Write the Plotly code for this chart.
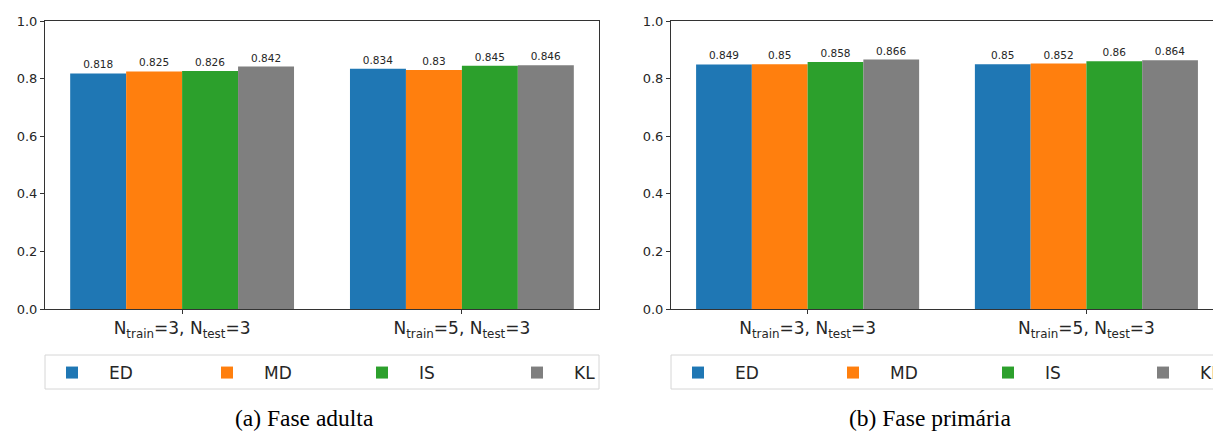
import plotly.graph_objects as go

W, H = 1213, 439

categories = ["N<sub>train</sub>=3, N<sub>test</sub>=3", "N<sub>train</sub>=5, N<sub>test</sub>=3"]
methods = ["ED", "MD", "IS", "KL"]
colors = ["#1f77b4", "#ff7f0e", "#2ca02c", "#7f7f7f"]

adulta = {
    "ED": [0.818, 0.834],
    "MD": [0.825, 0.83],
    "IS": [0.826, 0.845],
    "KL": [0.842, 0.846],
}
primaria = {
    "ED": [0.849, 0.85],
    "MD": [0.85, 0.852],
    "IS": [0.858, 0.86],
    "KL": [0.866, 0.864],
}
captions = ["(a) Fase adulta", "(b) Fase primária"]
yticks = [0.0, 0.2, 0.4, 0.6, 0.8, 1.0]

TXT = "#262626"
FONT = "DejaVu Sans"

fig = go.Figure()
xpos = list(range(len(categories)))

for panel, (data, xa, ya, lg) in enumerate([(adulta, "x", "y", "legend"), (primaria, "x2", "y2", "legend2")]):
    for m, c in zip(methods, colors):
        vals = data[m]
        fig.add_trace(go.Bar(
            x=xpos, y=vals, name=m, marker=dict(color=c, line=dict(width=0)),
            text=[f"{v:g}" for v in vals], textposition="outside",
            textfont=dict(family=FONT, size=10.5, color=TXT),
            cliponaxis=False, xaxis=xa, yaxis=ya, legend=lg,
        ))

def px(xp):
    return xp / W

def py(yp):
    return (H - yp) / H

axis_common = dict(showline=True, linecolor="#333333", linewidth=1, mirror=True,
                   ticks="outside", ticklen=4, tickcolor="#333333", showgrid=False,
                   zeroline=False)

legend_common = dict(orientation="h", xanchor="left", y=py(355), yanchor="top",
                     entrywidth=76, entrywidthmode="pixels", itemwidth=64,
                     bgcolor="rgba(0,0,0,0)",
                     font=dict(size=17, color=TXT), borderwidth=0)

fig.update_layout(
    width=W, height=H, autosize=False,
    margin=dict(l=0, r=0, t=0, b=0, autoexpand=False),
    paper_bgcolor="white", plot_bgcolor="white",
    barmode="group", bargap=0.2, bargroupgap=0,
    font=dict(family=FONT, color=TXT),
    xaxis=dict(domain=[px(45), px(599)], range=[-0.49, 1.49], tickvals=xpos, ticktext=categories,
               tickfont=dict(size=17, color=TXT), anchor="y", **axis_common),
    yaxis=dict(domain=[py(309), py(21)], range=[0, 1], tickvals=yticks,
               ticktext=[f"{t:.1f}" for t in yticks], tickfont=dict(size=13, color=TXT),
               anchor="x", **axis_common),
    xaxis2=dict(domain=[px(671), 1.0], range=[-0.49, -0.49 + (W - 671) / 278.8], tickvals=xpos,
                ticktext=categories, tickfont=dict(size=17, color=TXT), anchor="y2", **axis_common),
    yaxis2=dict(domain=[py(309), py(21)], range=[0, 1], tickvals=yticks,
                ticktext=[f"{t:.1f}" for t in yticks], tickfont=dict(size=13, color=TXT),
                anchor="x2", **{**axis_common, "mirror": False}),
    legend=dict(x=px(35), **legend_common),
    legend2=dict(x=px(661), **legend_common),
    showlegend=True,
)

# legend frames
for x0, x1 in [(45, 599), (671, 1225)]:
    fig.add_shape(type="rect", xref="paper", yref="paper", x0=px(x0), x1=px(x1),
                  y0=py(389), y1=py(355), line=dict(color="#d6d6d6", width=1), layer="below")

for cap, cx in zip(captions, [304, 930]):
    fig.add_annotation(text=cap, xref="paper", yref="paper", x=px(cx), y=py(418),
                       xanchor="center", yanchor="middle", showarrow=False,
                       font=dict(family="Liberation Serif", size=23.5, color="black"))

fig.write_html("out.html", config={"displayModeBar": False},
               post_script="document.body.style.margin='0px';document.body.style.overflow='hidden';")
